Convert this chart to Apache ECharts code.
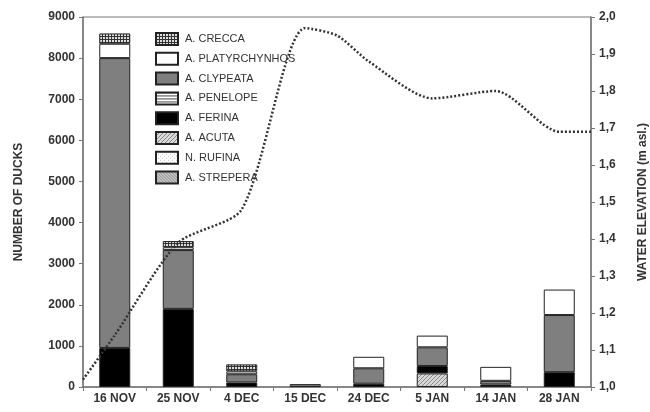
<!DOCTYPE html>
<html>
<head>
<meta charset="utf-8">
<script src="https://cdn.jsdelivr.net/npm/echarts@6/dist/echarts.min.js"></script>
<style>
  html, body { margin: 0; padding: 0; background: #fff; }
  #chart { width: 650px; height: 412px; }
</style>
</head>
<body>
<div id="chart"></div>
<script>
// Survey dates
const dates = ['16 NOV', '25 NOV', '4 DEC', '15 DEC', '24 DEC', '5 JAN', '14 JAN', '28 JAN'];

// Duck counts per species, one value per survey date
const strepera = [0, 0, 0, 0, 0, 0, 0, 0];
const rufina   = [0, 0, 0, 0, 0, 0, 0, 0];
const acuta    = [0, 0, 0, 0, 0, 330, 0, 0];
const ferina   = [950, 1900, 110, 0, 80, 180, 60, 360];
const penelope = [0, 0, 0, 0, 0, 0, 0, 0];
const clypeata = [7050, 1430, 200, 70, 375, 455, 90, 1390];
const platyrhynchos = [350, 70, 70, 0, 280, 285, 340, 620];
const crecca   = [250, 150, 170, 0, 0, 0, 0, 0];

// Water elevation (m asl.): position along the date axis (in category units) and level
const levelPos = [0, 0.5, 1.5, 2.5, 3.5, 4.0, 4.5, 5.5, 6.5, 7.5, 8];
const levelVal = [1.02, 1.14, 1.39, 1.48, 1.97, 1.95, 1.88, 1.78, 1.80, 1.69, 1.69];

// Axis ticks
const duckTicks = { min: 0, max: 9000, step: 1000 };
const levelTicks = { min: 1.0, max: 2.0, step: 0.1 };

function pattern(w, h, bg, draw) {
  const c = document.createElement('canvas');
  c.width = w; c.height = h;
  const g = c.getContext('2d');
  g.fillStyle = bg; g.fillRect(0, 0, w, h);
  g.fillStyle = '#000';
  draw(g);
  return { image: c, repeat: 'repeat' };
}

const fills = {
  crecca: pattern(3, 3, '#ddd', g => { g.fillStyle = '#333'; g.fillRect(0, 0, 1, 3); g.fillRect(0, 0, 3, 1); }),
  platy: '#ffffff',
  clypeata: '#7f7f7f',
  penelope: pattern(4, 3, '#fff', g => { g.fillStyle = '#444'; g.fillRect(0, 0, 4, 1); }),
  ferina: '#000000',
  acuta: pattern(4, 4, '#d8d8d8', g => { g.fillStyle = '#888'; for (let i = 0; i < 4; i++) g.fillRect(i, 3 - i, 1, 1); }),
  rufina: pattern(4, 4, '#fff', g => { g.fillStyle = '#bbb'; g.fillRect(0, 0, 1, 1); g.fillRect(2, 2, 1, 1); }),
  strepera: pattern(3, 3, '#c8c8c8', g => { g.fillStyle = '#888'; for (let i = 0; i < 3; i++) g.fillRect(i, i, 1, 1); })
};

const species = [
  { name: 'A. STREPERA', data: strepera, fill: fills.strepera },
  { name: 'N. RUFINA', data: rufina, fill: fills.rufina },
  { name: 'A. ACUTA', data: acuta, fill: fills.acuta },
  { name: 'A. FERINA', data: ferina, fill: fills.ferina },
  { name: 'A. PENELOPE', data: penelope, fill: fills.penelope },
  { name: 'A. CLYPEATA', data: clypeata, fill: fills.clypeata },
  { name: 'A. PLATYRCHYNHOS', data: platyrhynchos, fill: fills.platy },
  { name: 'A. CRECCA', data: crecca, fill: fills.crecca }
];

const font = 'Liberation Sans, Arial, sans-serif';
const axisGrey = '#777';

const barSeries = species.map(s => ({
  name: s.name,
  type: 'bar',
  stack: 'ducks',
  barWidth: 31,
  xAxisIndex: 0,
  yAxisIndex: 0,
  data: s.data.map(v => (v === 0 ? '-' : v)),
  itemStyle: { color: s.fill, borderColor: '#222', borderWidth: 1 },
  emphasis: { disabled: true }
}));

const lineSeries = {
  name: 'level',
  type: 'line',
  xAxisIndex: 1,
  yAxisIndex: 1,
  data: levelPos.map((x, i) => [x, levelVal[i]]),
  symbol: 'none',
  smooth: 0.25,
  z: 10,
  lineStyle: { color: '#333', width: 2.5, type: [2, 2] }
};

const chart = echarts.init(document.getElementById('chart'), null, { renderer: 'canvas' });
chart.setOption({
  animation: false,
  backgroundColor: '#fff',
  grid: {
    left: 83, right: 59, top: 17, bottom: 25,
    outerBoundsMode: 'none', containLabel: false,
    show: true, borderColor: axisGrey, borderWidth: 1
  },
  legend: {
    orient: 'vertical',
    left: 150,
    top: 27,
    icon: 'rect',
    itemWidth: 22,
    itemHeight: 12,
    itemGap: 5.8,
    data: ['A. CRECCA', 'A. PLATYRCHYNHOS', 'A. CLYPEATA', 'A. PENELOPE', 'A. FERINA', 'A. ACUTA', 'N. RUFINA', 'A. STREPERA'],
    textStyle: { fontFamily: font, fontSize: 11, color: '#333', padding: [0, 0, 0, 2] },
    selectedMode: false
  },
  xAxis: [
    {
      type: 'category',
      data: dates,
      axisLine: { lineStyle: { color: axisGrey, width: 1.5 } },
      axisTick: { show: true, length: 4, lineStyle: { color: axisGrey } },
      axisLabel: { fontFamily: font, fontWeight: 'bold', fontSize: 12, color: '#333', margin: 6 }
    },
    {
      type: 'value', min: 0, max: 8, show: false
    }
  ],
  yAxis: [
    {
      type: 'value',
      min: duckTicks.min, max: duckTicks.max, interval: duckTicks.step,
      name: 'NUMBER OF DUCKS',
      nameLocation: 'middle',
      nameGap: 58,
      nameTextStyle: { fontFamily: font, fontWeight: 'bold', fontSize: 12, color: '#333' },
      axisLine: { show: true, lineStyle: { color: axisGrey, width: 1.5 } },
      axisTick: { show: true, length: 4, lineStyle: { color: axisGrey } },
      splitLine: { show: false },
      axisLabel: {
        fontFamily: font, fontWeight: 'bold', fontSize: 12, color: '#333', margin: 8,
        formatter: v => String(v)
      }
    },
    {
      type: 'value',
      position: 'right',
      min: levelTicks.min, max: levelTicks.max, interval: levelTicks.step,
      name: 'WATER ELEVATION (m asl.)',
      nameLocation: 'middle',
      nameGap: 46,
      nameRotate: 90,
      nameTextStyle: { fontFamily: font, fontWeight: 'bold', fontSize: 12, color: '#333' },
      axisLine: { show: true, lineStyle: { color: axisGrey, width: 1.5 } },
      axisTick: { show: true, length: 4, lineStyle: { color: axisGrey } },
      splitLine: { show: false },
      axisLabel: {
        fontFamily: font, fontWeight: 'bold', fontSize: 12, color: '#333', margin: 8,
        formatter: v => v.toFixed(1).replace('.', ',')
      }
    }
  ],
  series: [...barSeries, lineSeries]
});
</script>
</body>
</html>
